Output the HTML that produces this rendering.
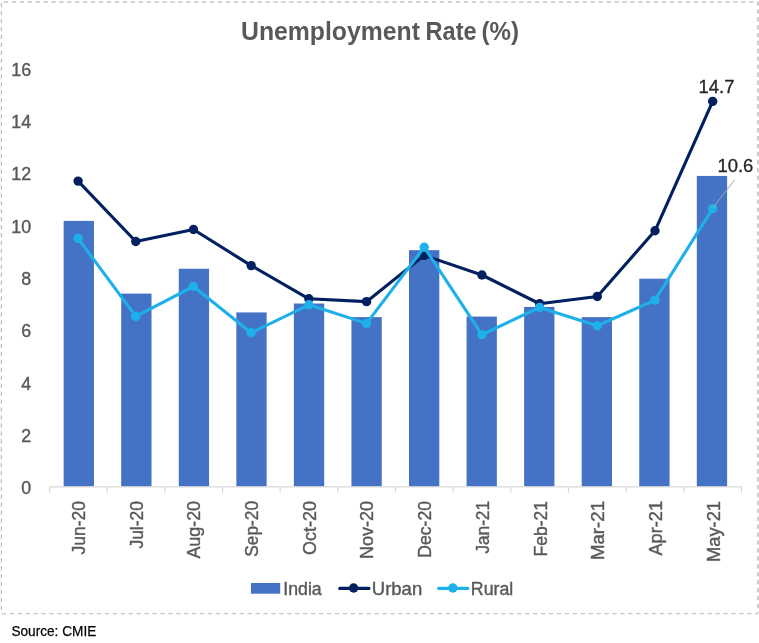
<!DOCTYPE html>
<html lang="en"><head><meta charset="utf-8"><title>Unemployment Rate (%)</title>
<style>html,body{margin:0;padding:0;background:#fff}svg{display:block}text{font-family:"Liberation Sans",sans-serif}</style></head><body>
<svg width="759" height="643" viewBox="0 0 759 643">
<rect width="759" height="643" fill="#fff"/>
<defs><filter id="soft" x="0" y="0" width="100%" height="100%" filterUnits="userSpaceOnUse" color-interpolation-filters="sRGB"><feGaussianBlur stdDeviation="0.5"/></filter></defs>
<g filter="url(#soft)">
<g fill="none" stroke-dasharray="4.4 3.53">
<line x1="3.75" y1="2" x2="757" y2="2" stroke="#c6c6c6" stroke-width="1.3"/>
<line x1="1.4" y1="2.96" x2="1.4" y2="613" stroke="#b4b4b4" stroke-width="1.1"/>
<line x1="757.9" y1="1.2" x2="757.9" y2="613" stroke="#c8c8c8" stroke-width="1.8"/>
<line x1="1.7" y1="613.7" x2="758" y2="613.7" stroke="#b8b8b8" stroke-width="1.1"/>
</g>
<text y="39.8" font-size="26" font-weight="bold" fill="#595959"><tspan x="241" textLength="179" lengthAdjust="spacingAndGlyphs">Unemployment</tspan> <tspan x="425.6" textLength="51" lengthAdjust="spacingAndGlyphs">Rate</tspan> <tspan x="481.6" textLength="37.5" lengthAdjust="spacingAndGlyphs">(%)</tspan></text>
<g font-size="18" fill="#595959" stroke="#595959" stroke-width="0.4" text-anchor="end">
<text x="31.1" y="494.1" textLength="9.9" lengthAdjust="spacingAndGlyphs">0</text>
<text x="31.1" y="441.8" textLength="9.9" lengthAdjust="spacingAndGlyphs">2</text>
<text x="31.1" y="389.5" textLength="9.9" lengthAdjust="spacingAndGlyphs">4</text>
<text x="31.1" y="337.2" textLength="9.9" lengthAdjust="spacingAndGlyphs">6</text>
<text x="31.1" y="284.9" textLength="9.9" lengthAdjust="spacingAndGlyphs">8</text>
<text x="31.1" y="232.6" textLength="19.9" lengthAdjust="spacingAndGlyphs">10</text>
<text x="31.1" y="180.3" textLength="19.9" lengthAdjust="spacingAndGlyphs">12</text>
<text x="31.1" y="128.0" textLength="19.9" lengthAdjust="spacingAndGlyphs">14</text>
<text x="31.1" y="75.7" textLength="19.9" lengthAdjust="spacingAndGlyphs">16</text>
</g>
<g fill="#4472c4">
<rect x="63.65" y="220.89" width="30.3" height="265.66"/>
<rect x="121.21" y="293.59" width="30.3" height="192.96"/>
<rect x="178.77" y="268.75" width="30.3" height="217.80"/>
<rect x="236.33" y="312.42" width="30.3" height="174.13"/>
<rect x="293.89" y="303.53" width="30.3" height="183.02"/>
<rect x="351.45" y="317.12" width="30.3" height="169.43"/>
<rect x="409.01" y="250.18" width="30.3" height="236.37"/>
<rect x="466.57" y="316.60" width="30.3" height="169.95"/>
<rect x="524.13" y="306.93" width="30.3" height="179.62"/>
<rect x="581.69" y="317.12" width="30.3" height="169.43"/>
<rect x="639.25" y="278.68" width="30.3" height="207.87"/>
<rect x="696.81" y="175.92" width="30.3" height="310.63"/>
</g>
<g stroke="#d9d9d9" stroke-width="1.2" fill="none">
<line x1="49.2" y1="486.9" x2="741.9" y2="486.9"/>
<line x1="49.55" y1="486.9" x2="49.55" y2="492.8"/>
<line x1="107.21" y1="486.9" x2="107.21" y2="492.8"/>
<line x1="164.87" y1="486.9" x2="164.87" y2="492.8"/>
<line x1="222.53" y1="486.9" x2="222.53" y2="492.8"/>
<line x1="280.19" y1="486.9" x2="280.19" y2="492.8"/>
<line x1="337.85" y1="486.9" x2="337.85" y2="492.8"/>
<line x1="395.51" y1="486.9" x2="395.51" y2="492.8"/>
<line x1="453.17" y1="486.9" x2="453.17" y2="492.8"/>
<line x1="510.83" y1="486.9" x2="510.83" y2="492.8"/>
<line x1="568.49" y1="486.9" x2="568.49" y2="492.8"/>
<line x1="626.15" y1="486.9" x2="626.15" y2="492.8"/>
<line x1="683.81" y1="486.9" x2="683.81" y2="492.8"/>
<line x1="741.47" y1="486.9" x2="741.47" y2="492.8"/>
</g>
<polyline points="78.10,181.12 135.79,241.52 193.48,229.50 251.17,265.58 308.86,298.79 366.55,301.67 424.24,255.38 481.93,275.00 539.62,303.76 597.31,296.44 655.00,230.80 712.69,101.36" fill="none" stroke="#002060" stroke-width="3.1" stroke-linejoin="round" stroke-linecap="round"/>
<g fill="#002060"><circle cx="78.10" cy="181.12" r="4.7"/><circle cx="135.79" cy="241.52" r="4.7"/><circle cx="193.48" cy="229.50" r="4.7"/><circle cx="251.17" cy="265.58" r="4.7"/><circle cx="308.86" cy="298.79" r="4.7"/><circle cx="366.55" cy="301.67" r="4.7"/><circle cx="424.24" cy="255.38" r="4.7"/><circle cx="481.93" cy="275.00" r="4.7"/><circle cx="539.62" cy="303.76" r="4.7"/><circle cx="597.31" cy="296.44" r="4.7"/><circle cx="655.00" cy="230.80" r="4.7"/><circle cx="712.69" cy="101.36" r="4.7"/></g>
<polyline points="78.10,238.39 135.79,316.31 193.48,286.50 251.17,332.79 308.86,304.81 366.55,323.37 424.24,247.28 481.93,334.62 539.62,307.42 597.31,325.73 655.00,300.10 712.69,208.58" fill="none" stroke="#1db0ea" stroke-width="3.1" stroke-linejoin="round" stroke-linecap="round"/>
<g fill="#1db0ea"><circle cx="78.10" cy="238.39" r="4.7"/><circle cx="135.79" cy="316.31" r="4.7"/><circle cx="193.48" cy="286.50" r="4.7"/><circle cx="251.17" cy="332.79" r="4.7"/><circle cx="308.86" cy="304.81" r="4.7"/><circle cx="366.55" cy="323.37" r="4.7"/><circle cx="424.24" cy="247.28" r="4.7"/><circle cx="481.93" cy="334.62" r="4.7"/><circle cx="539.62" cy="307.42" r="4.7"/><circle cx="597.31" cy="325.73" r="4.7"/><circle cx="655.00" cy="300.10" r="4.7"/><circle cx="712.69" cy="208.58" r="4.7"/></g>
<line x1="734.6" y1="179.9" x2="712.6" y2="208.2" stroke="#a6a6a6" stroke-width="1"/>
<g font-size="18" fill="#262626" stroke="#262626" stroke-width="0.3">
<text x="698.6" y="93.2" textLength="35.9" lengthAdjust="spacingAndGlyphs">14.7</text>
<text x="717.4" y="172.1" textLength="35.9" lengthAdjust="spacingAndGlyphs">10.6</text>
</g>
<g font-size="18" fill="#595959" stroke="#595959" stroke-width="0.4" text-anchor="end">
<text transform="translate(85.00,501) rotate(-90)" textLength="53.5" lengthAdjust="spacingAndGlyphs">Jun-20</text>
<text transform="translate(142.69,501) rotate(-90)" textLength="47.6" lengthAdjust="spacingAndGlyphs">Jul-20</text>
<text transform="translate(200.38,501) rotate(-90)" textLength="57.6" lengthAdjust="spacingAndGlyphs">Aug-20</text>
<text transform="translate(258.07,501) rotate(-90)" textLength="55.7" lengthAdjust="spacingAndGlyphs">Sep-20</text>
<text transform="translate(315.76,501) rotate(-90)" textLength="53.9" lengthAdjust="spacingAndGlyphs">Oct-20</text>
<text transform="translate(373.45,501) rotate(-90)" textLength="58.0" lengthAdjust="spacingAndGlyphs">Nov-20</text>
<text transform="translate(431.14,501) rotate(-90)" textLength="56.8" lengthAdjust="spacingAndGlyphs">Dec-20</text>
<text transform="translate(488.83,501) rotate(-90)" textLength="52.6" lengthAdjust="spacingAndGlyphs">Jan-21</text>
<text transform="translate(546.52,501) rotate(-90)" textLength="55.4" lengthAdjust="spacingAndGlyphs">Feb-21</text>
<text transform="translate(604.21,501) rotate(-90)" textLength="59.1" lengthAdjust="spacingAndGlyphs">Mar-21</text>
<text transform="translate(661.90,501) rotate(-90)" textLength="54.5" lengthAdjust="spacingAndGlyphs">Apr-21</text>
<text transform="translate(719.59,501) rotate(-90)" textLength="61.0" lengthAdjust="spacingAndGlyphs">May-21</text>
</g>
<rect x="251" y="583" width="29.2" height="10.7" fill="#4472c4"/>
<g font-size="18" fill="#595959" stroke="#595959" stroke-width="0.4">
<text x="283.3" y="594.7" textLength="38.4" lengthAdjust="spacingAndGlyphs">India</text>
<text x="371.8" y="594.7" textLength="50.4" lengthAdjust="spacingAndGlyphs">Urban</text>
<text x="470.8" y="594.7" textLength="42.5" lengthAdjust="spacingAndGlyphs">Rural</text>
</g>
<line x1="339.7" y1="588.4" x2="368.9" y2="588.4" stroke="#002060" stroke-width="3.1" stroke-linecap="round"/><circle cx="353.6" cy="588.0" r="4.7" fill="#002060"/>
<line x1="438.7" y1="588.4" x2="467.8" y2="588.4" stroke="#1db0ea" stroke-width="3.1" stroke-linecap="round"/><circle cx="452.9" cy="588.0" r="4.7" fill="#1db0ea"/>
<text x="11.4" y="635.6" font-size="15" fill="#000" stroke="#000" stroke-width="0.25" textLength="84.9" lengthAdjust="spacingAndGlyphs">Source: CMIE</text>
</g></svg></body></html>
